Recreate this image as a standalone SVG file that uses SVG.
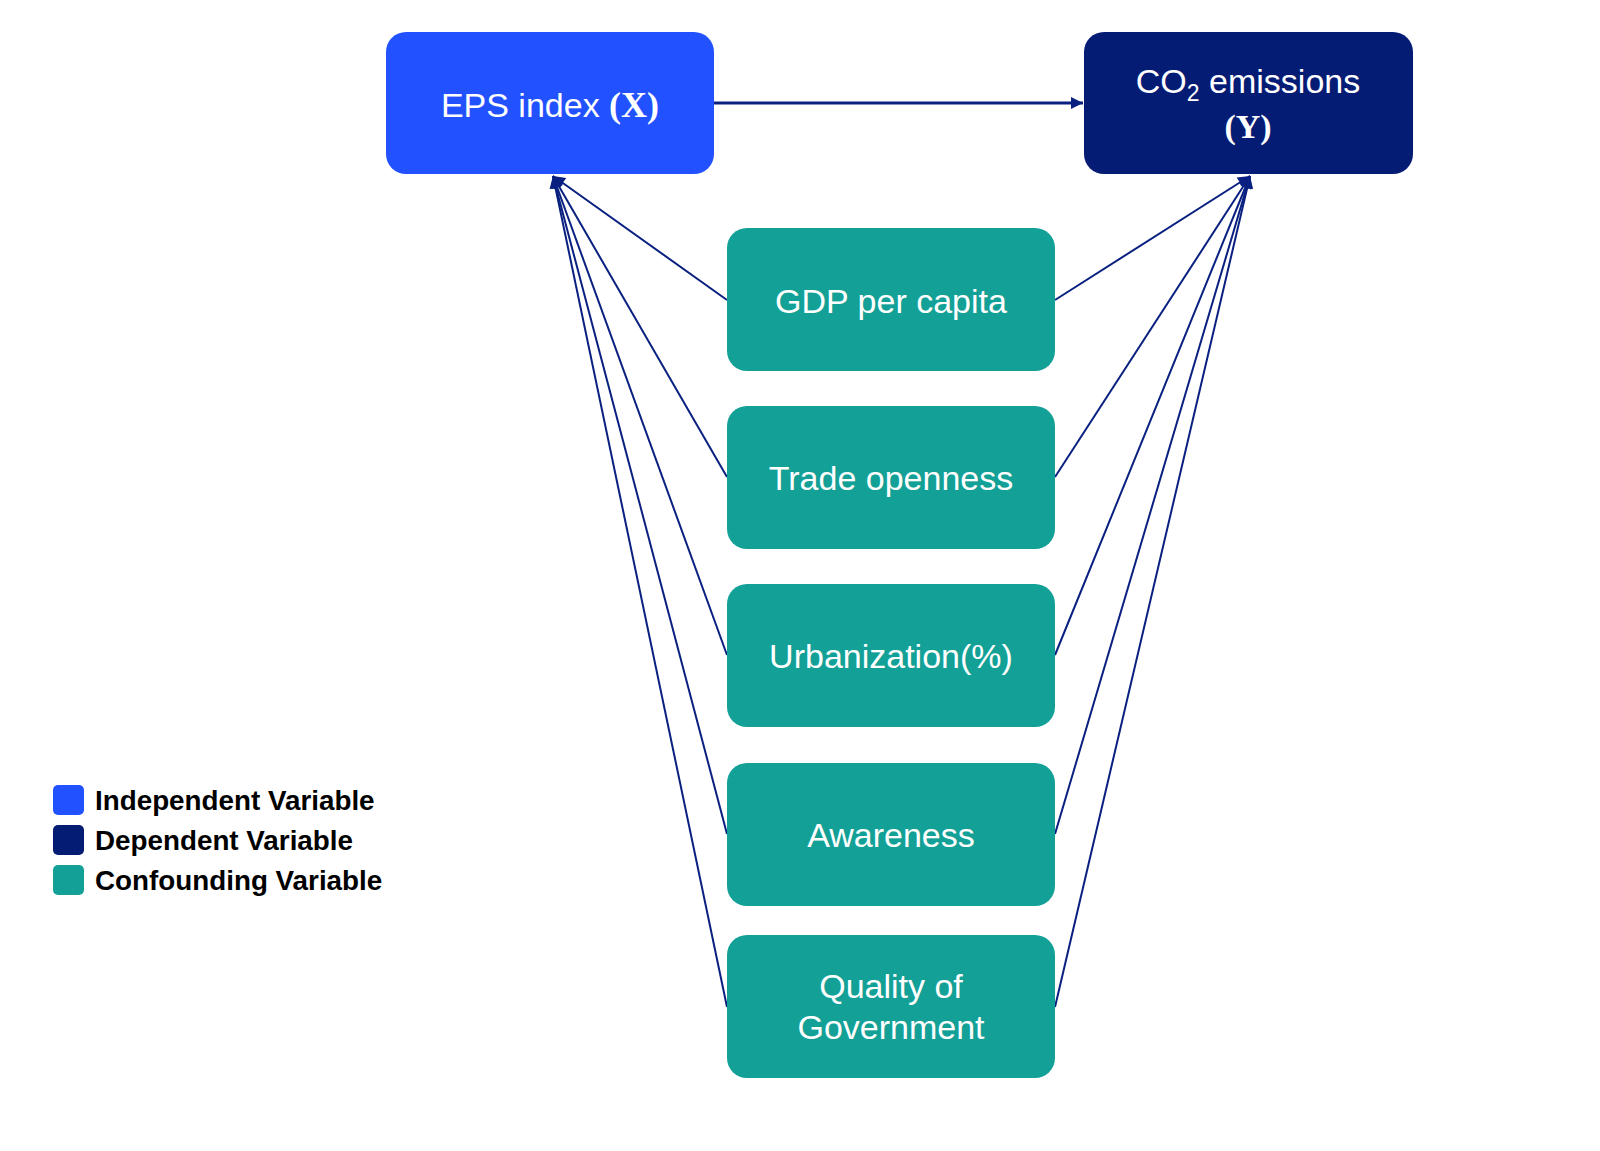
<svg xmlns="http://www.w3.org/2000/svg" width="1600" height="1151" viewBox="0 0 1600 1151">
<defs>
<style>
.box{rx:20px;ry:20px}
.ind{fill:#2251FF}
.dep{fill:#051C75}
.con{fill:#13A096}
.t{font-family:"Liberation Sans",Arial,sans-serif;font-size:34px;fill:#ffffff;text-anchor:middle}
.b{font-family:"Liberation Serif","Times New Roman",serif;font-weight:bold}
.edge{stroke:#0A2080;stroke-width:2;fill:none;marker-end:url(#ah)}
.lg{font-family:"Liberation Sans",Arial,sans-serif;font-size:27.8px;font-weight:bold;fill:#000000}
</style>
<marker id="ah" viewBox="0 0 10 10" refX="10" refY="5" markerWidth="15" markerHeight="12" markerUnits="userSpaceOnUse" orient="auto">
<path d="M0,0 L10,5 L0,10 z" fill="#0A2080"/>
</marker>
<marker id="ah2" viewBox="0 0 10 10" refX="10" refY="5" markerWidth="14" markerHeight="12" markerUnits="userSpaceOnUse" orient="auto">
<path d="M0,0 L10,5 L0,10 z" fill="#0A2080"/>
</marker>
</defs>
<rect width="1600" height="1151" fill="#ffffff"/>
<g id="connectors">
<line x1="714" y1="103" x2="1083" y2="103" stroke="#0A2080" stroke-width="3" marker-end="url(#ah2)"/>
<line class="edge" x1="727" y1="300" x2="553" y2="176"/>
<line class="edge" x1="727" y1="477" x2="553" y2="176"/>
<line class="edge" x1="727" y1="655" x2="553" y2="176"/>
<line class="edge" x1="727" y1="834" x2="553" y2="176"/>
<line class="edge" x1="727" y1="1007" x2="553" y2="176"/>
<line class="edge" x1="1055" y1="300" x2="1250" y2="176"/>
<line class="edge" x1="1055" y1="477" x2="1250" y2="176"/>
<line class="edge" x1="1055" y1="655" x2="1250" y2="176"/>
<line class="edge" x1="1055" y1="834" x2="1250" y2="176"/>
<line class="edge" x1="1055" y1="1007" x2="1250" y2="176"/>
</g>
<g id="eps">
<rect class="box ind" x="386" y="32" width="328" height="142"/>
<text class="t" x="550" y="117">EPS index <tspan class="b" font-size="36">(X)</tspan></text>
</g>
<g id="co2">
<rect class="box dep" x="1084" y="32" width="329" height="142"/>
<text class="t" x="1248" y="93">CO<tspan font-size="23" dy="8">2</tspan><tspan dy="-8"> emissions</tspan></text>
<text class="t b" x="1248" y="138" font-size="36">(Y)</text>
</g>
<g id="gdp">
<rect class="box con" x="727" y="228" width="328" height="143"/>
<text class="t" x="891" y="313">GDP per capita</text>
</g>
<g id="trade">
<rect class="box con" x="727" y="406" width="328" height="143"/>
<text class="t" x="891" y="490">Trade openness</text>
</g>
<g id="urban">
<rect class="box con" x="727" y="584" width="328" height="143"/>
<text class="t" x="891" y="668">Urbanization(%)</text>
</g>
<g id="awareness">
<rect class="box con" x="727" y="763" width="328" height="143"/>
<text class="t" x="891" y="847">Awareness</text>
</g>
<g id="quality">
<rect class="box con" x="727" y="935" width="328" height="143"/>
<text class="t" x="891" y="998">Quality of</text>
<text class="t" x="891" y="1039">Government</text>
</g>
<g id="legend">
<rect class="ind" x="53" y="785" width="31" height="30" rx="5"/>
<text class="lg" x="95" y="810">Independent Variable</text>
<rect class="dep" x="53" y="825" width="31" height="30" rx="5"/>
<text class="lg" x="95" y="850">Dependent Variable</text>
<rect class="con" x="53" y="865" width="31" height="30" rx="5"/>
<text class="lg" x="95" y="890">Confounding Variable</text>
</g>
</svg>
